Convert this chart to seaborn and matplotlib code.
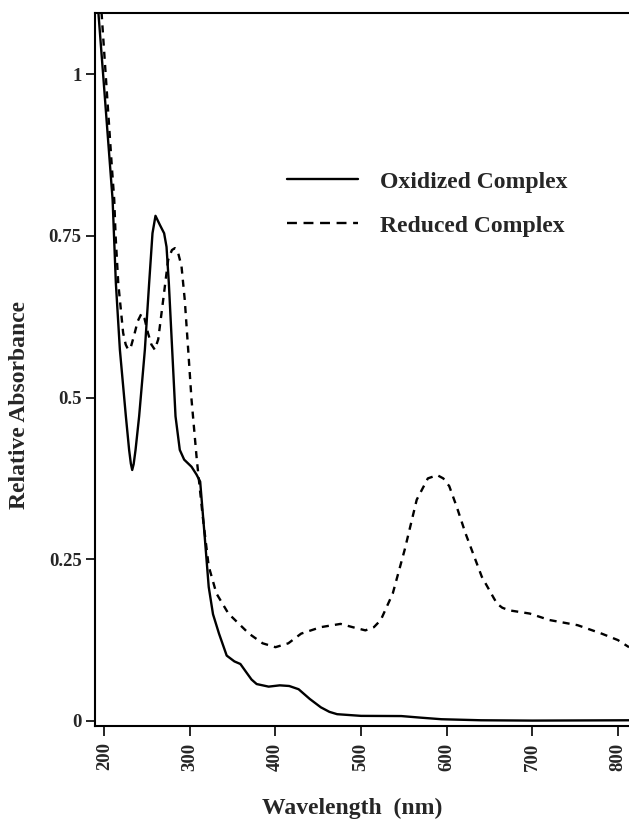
import matplotlib
matplotlib.use("Agg")
import matplotlib.pyplot as plt
import seaborn as sns
import pandas as pd

# ----------------------------------------------------------------------------
# Data (wavelength in nm, relative absorbance)
# ----------------------------------------------------------------------------

ox_wavelength = [192, 193.1, 198.6, 205.3, 209.7, 213.5, 218.2, 225.2, 229, 231,
                 232.6, 234.3, 236.5, 240.7, 247.4, 252.4, 256.3, 259.8, 264.9, 269.9,
                 272.7, 275.4, 279.3, 283.2, 288.2, 293.3, 301.9, 307.7, 312, 317, 322,
                 327, 334, 343, 352, 359, 366, 372, 378, 392, 405, 416, 427, 440,
                 453, 463, 472, 500, 547, 570, 594, 640, 700, 813]
ox_absorbance = [1.12, 1.095, 1.00, 0.883, 0.806, 0.677, 0.574, 0.471, 0.419, 0.398,
                 0.388, 0.397, 0.419, 0.471, 0.574, 0.677, 0.754, 0.781, 0.767, 0.754,
                 0.733, 0.677, 0.574, 0.471, 0.419, 0.404, 0.393, 0.381, 0.37, 0.29,
                 0.207, 0.165, 0.135, 0.101, 0.092, 0.088, 0.075, 0.064, 0.057, 0.053,
                 0.055, 0.054, 0.049, 0.034, 0.021, 0.014, 0.0104, 0.0078, 0.0075,
                 0.005, 0.0026, 0.001, 0.0005, 0.001]

red_wavelength = [195.5, 196.8, 201.6, 208.8, 211.6, 213.2, 216.3, 222, 225, 227.9,
                  231, 235, 239, 243.5, 247, 251, 255, 259, 263, 268.8, 274.6, 279,
                  282.4, 286, 290.2, 294, 298, 301.9, 308, 315, 322, 331, 345, 369,
                  385, 400, 415, 430, 453, 476, 490, 505, 515, 523, 537, 551, 565,
                  578, 589, 596, 603, 612, 622, 641, 655, 659, 665, 673, 697, 720,
                  753, 781, 800, 813]
red_absorbance = [1.12, 1.095, 1.00, 0.857, 0.806, 0.75, 0.677, 0.60, 0.582, 0.574,
                  0.578, 0.597, 0.618, 0.630, 0.622, 0.60, 0.582, 0.574, 0.59, 0.651,
                  0.713, 0.728, 0.731, 0.725, 0.703, 0.651, 0.574, 0.497, 0.405, 0.316,
                  0.239, 0.197, 0.166, 0.135, 0.12, 0.114, 0.12, 0.135, 0.145, 0.150,
                  0.145, 0.140, 0.145, 0.156, 0.197, 0.265, 0.342, 0.375, 0.380, 0.375,
                  0.363, 0.33, 0.29, 0.223, 0.19, 0.181, 0.175, 0.171, 0.166, 0.156,
                  0.148, 0.135, 0.125, 0.114]

series_names = ["Oxidized Complex", "Reduced Complex"]

x_ticks = [200, 300, 400, 500, 600, 700, 800]
y_ticks = [0, 0.25, 0.5, 0.75, 1]
y_tick_labels = ["0", "0.25", "0.5", "0.75", "1"]

# long-form table for seaborn
df = pd.concat([
    pd.DataFrame({"wavelength": ox_wavelength, "absorbance": ox_absorbance,
                  "sample": series_names[0]}),
    pd.DataFrame({"wavelength": red_wavelength, "absorbance": red_absorbance,
                  "sample": series_names[1]}),
], ignore_index=True)

# ----------------------------------------------------------------------------
# Plot
# ----------------------------------------------------------------------------

sns.set_style("ticks")
plt.rcParams["font.family"] = ["Liberation Serif", "DejaVu Serif"]
plt.rcParams["font.weight"] = "bold"

fig = plt.figure(figsize=(6.29, 8.21), dpi=100)
ax = fig.add_axes([0.1518, 0.1160, 0.8482, 0.8685])

sns.lineplot(
    data=df, x="wavelength", y="absorbance", style="sample",
    dashes={series_names[0]: "", series_names[1]: (3.0, 2.6)},
    color="black", linewidth=1.7, sort=False, estimator=None, ax=ax,
)

ax.set_xlim(189.7, 813)
ax.set_ylim(-0.0075, 1.095)

ax.set_xticks(x_ticks)
ax.set_xticklabels([str(t) for t in x_ticks], rotation=90, fontsize=13.5, fontweight="bold")
ax.set_yticks(y_ticks)
ax.set_yticklabels(y_tick_labels, fontsize=13.5, fontweight="bold")
ax.tick_params(axis="x", length=7, width=1.2, pad=5, color="black")
ax.tick_params(axis="y", length=6.5, width=1.2, pad=3.5, color="black")

for side in ["left", "bottom", "top"]:
    ax.spines[side].set_linewidth(1.5)
    ax.spines[side].set_color("black")
ax.spines["right"].set_visible(False)

ax.set_xlabel("Wavelength  (nm)", fontsize=17, fontweight="bold", va="baseline")
ax.xaxis.set_label_coords(0.481, -0.124)
ax.set_ylabel("Relative Absorbance", fontsize=17, fontweight="bold", va="center")
ax.yaxis.set_label_coords(-0.143, 0.45)

handles, labels = ax.get_legend_handles_labels()
leg = ax.legend(handles, labels, loc="upper left", bbox_to_anchor=(0.359, 0.778),
                frameon=False, fontsize=17, handlelength=3.0, handletextpad=0.95,
                labelspacing=0.95, borderpad=0, borderaxespad=0)
# the key uses a slightly longer dash than the curve
leg.get_lines()[1].set_dashes((4.2, 2.8))

fig.savefig("out.png", dpi=100)
plt.close(fig)
